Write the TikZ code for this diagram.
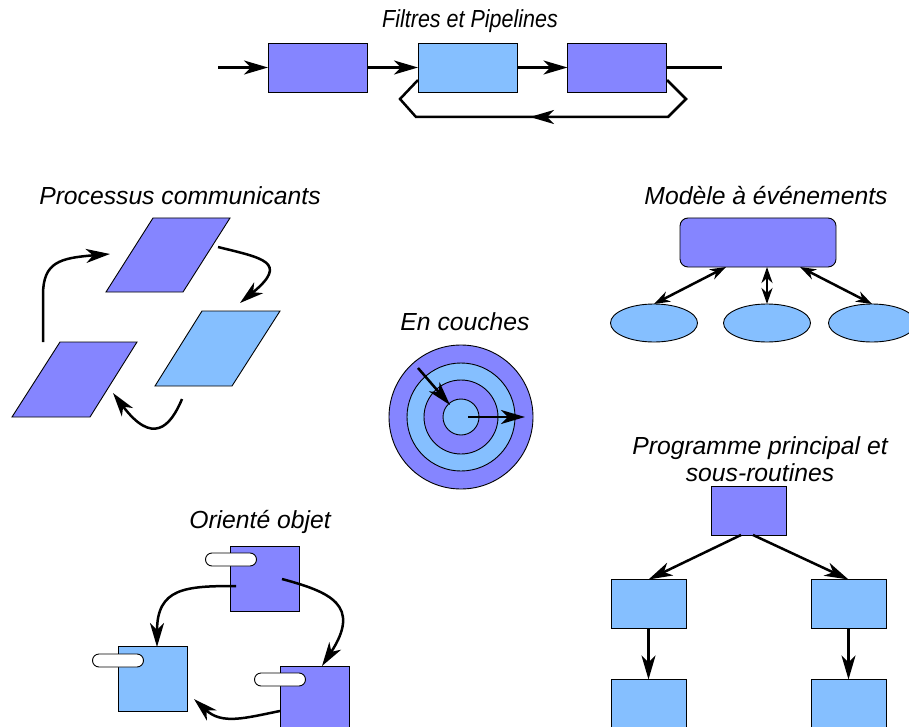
\documentclass[tikz,border=0pt]{standalone}
\usepackage{fontspec}
\setmainfont{Liberation Sans}
\newfontfamily\narrowfont[FakeStretch=0.87]{Liberation Sans}
\usetikzlibrary{arrows.meta,shapes.geometric,shapes.misc}
\definecolor{dk}{HTML}{8585FF}
\definecolor{lt}{HTML}{85BFFF}
\begin{document}
\begin{tikzpicture}[x=1pt,y=-1pt,
  title/.style={font=\fontsize{24.7}{27}\selectfont\itshape, inner sep=0pt, align=center},
  shp/.style={draw, line width=0.9pt, inner sep=0pt, outer sep=0pt},
  boxd/.style={shp, fill=dk, rectangle},
  boxl/.style={shp, fill=lt, rectangle},
  pill/.style={shp, fill=white, rounded rectangle, minimum width=51pt, minimum height=13pt},
  ell/.style={shp, fill=lt, ellipse, minimum width=87pt, minimum height=38pt},
  ln/.style={line width=2.5pt},
  arr/.style={line width=2.5pt, -{Stealth[length=24pt,width=14pt,inset=7pt]}},
  darr/.style={line width=2.5pt, {Stealth[length=16pt,width=11pt,inset=5pt]}-{Stealth[length=16pt,width=11pt,inset=5pt]}}
]
\useasboundingbox (0,0) rectangle (909,727);

% ---------- Filtres et Pipelines ----------
\node[title, font=\fontsize{24.7}{27}\narrowfont\itshape] (t1) at (470,21) {Filtres et Pipelines};
\node[boxd, minimum width=99pt, minimum height=49pt] (f1) at (317.5,67.5) {};
\node[boxl, minimum width=99pt, minimum height=49pt] (f2) at (467.5,67.5) {};
\node[boxd, minimum width=99pt, minimum height=49pt] (f3) at (617,67.5) {};
\coordinate (fin) at (218,67.5);
\coordinate (fout) at (722,67.5);
\draw[arr] (fin) -- (f1);
\draw[arr] (f1) -- (f2);
\draw[arr] (f2) -- (f3);
\draw[ln] (f3) -- (fout);
\coordinate (fb1) at (667,80);
\coordinate (fb2) at (686,99);
\coordinate (fb3) at (668,117);
\coordinate (fb4) at (416,117);
\coordinate (fb5) at (400,99);
\coordinate (fb6) at (418,80);
\coordinate (fbm) at (530,117);
\draw[ln, line join=miter] (fb1) -- (fb2) -- (fb3) -- (fb4) -- (fb5) -- (fb6);
\draw[arr] (fb3) -- (fbm);

% ---------- Processus communicants ----------
\node[title] (t2) at (180,196) {Processus communicants};
\draw[shp, fill=dk] (153,218) -- (230,218) -- (183,292) -- (106,292) -- cycle;
\draw[shp, fill=lt] (202,311) -- (280,311) -- (232,386) -- (155,386) -- cycle;
\draw[shp, fill=dk] (60,342) -- (137,342) -- (90,417) -- (12,417) -- cycle;
\coordinate (pa1) at (43,342);
\coordinate (pa2) at (110,254);
\coordinate (pb1) at (218,247);
\coordinate (pb2) at (240,303);
\coordinate (pc1) at (182,399);
\coordinate (pc2) at (113,393);
\draw[arr] (pa1) -- (43,295) .. controls (43,262) and (60,258) .. (pa2);
\draw[arr] (pb1) .. controls (262,258) and (290,262) .. (pb2);
\draw[arr] (pc1) .. controls (170,428) and (152,445) .. (pc2);

% ---------- En couches ----------
\node[title] (t3) at (465,322) {En couches};
\node[shp, circle, fill=dk, minimum size=144pt] (c1) at (461,417) {};
\node[shp, circle, fill=lt, minimum size=108pt] (c2) at (461,417) {};
\node[shp, circle, fill=dk, minimum size=74pt] (c3) at (461,417) {};
\node[shp, circle, fill=lt, minimum size=36pt] (c4) at (461,417) {};
\coordinate (ca1) at (418,368);
\coordinate (ca2) at (450,405);
\coordinate (cb1) at (468,417);
\coordinate (cb2) at (525,417);
\draw[arr] (ca1) -- (ca2);
\draw[arr] (cb1) -- (cb2);

% ---------- Modele a evenements ----------
\node[title] (t4) at (766,196) {Modèle à événements};
\node[boxd, rounded corners=8pt, minimum width=156pt, minimum height=49pt] (m0) at (758,242.5) {};
\node[ell] (e1) at (654,323) {};
\node[ell] (e2) at (767,323) {};
\node[ell] (e3) at (872,323) {};
\coordinate (m1) at (726,267);
\coordinate (m2) at (767,267);
\coordinate (m3) at (800,267);
\draw[darr] (m1) -- (e1.north);
\draw[darr] (m2) -- (e2.north);
\draw[darr] (m3) -- (e3.north);

% ---------- Oriente objet ----------
\node[title] (t5) at (260,522) {Orienté objet};
\node[boxd, minimum width=69pt, minimum height=65pt] (o1) at (265,579) {};
\node[boxl, minimum width=69pt, minimum height=65pt] (o2) at (152.5,679) {};
\node[boxd, minimum width=69pt, minimum height=65pt] (o3) at (314.5,698.5) {};
\node[pill] (p1) at (231,559.5) {};
\node[pill] (p2) at (118,660.5) {};
\node[pill] (p3) at (280,679.5) {};
\coordinate (oa1) at (236,586);
\coordinate (ob1) at (282,579);
\coordinate (oc1) at (280,711);
\coordinate (oc2) at (194,699);
\draw[arr] (oa1) .. controls (185,586) and (157,588) .. (157,647);
\draw[arr] (ob1) .. controls (330,592) and (362,605) .. (322,666);
\draw[arr] (oc1) .. controls (245,718) and (222,725) .. (oc2);

% ---------- Programme principal ----------
\node[title] (t6) at (760,459) {Programme principal et\\sous-routines};
\node[boxd, minimum width=75pt, minimum height=49pt] (r0) at (748.5,510.5) {};
\node[boxl, minimum width=75pt, minimum height=49pt] (r1) at (648.5,604) {};
\node[boxl, minimum width=75pt, minimum height=49pt] (r2) at (848.5,604) {};
\node[boxl, minimum width=75pt, minimum height=49pt] (r3) at (648.5,704) {};
\node[boxl, minimum width=75pt, minimum height=49pt] (r4) at (848.5,704) {};
\coordinate (ra) at (741,535);
\coordinate (rb) at (753,535);
\draw[arr] (ra) -- (r1.north);
\draw[arr] (rb) -- (r2.north);
\draw[arr] (r1) -- (r3);
\draw[arr] (r2) -- (r4);
\end{tikzpicture}
\end{document}
